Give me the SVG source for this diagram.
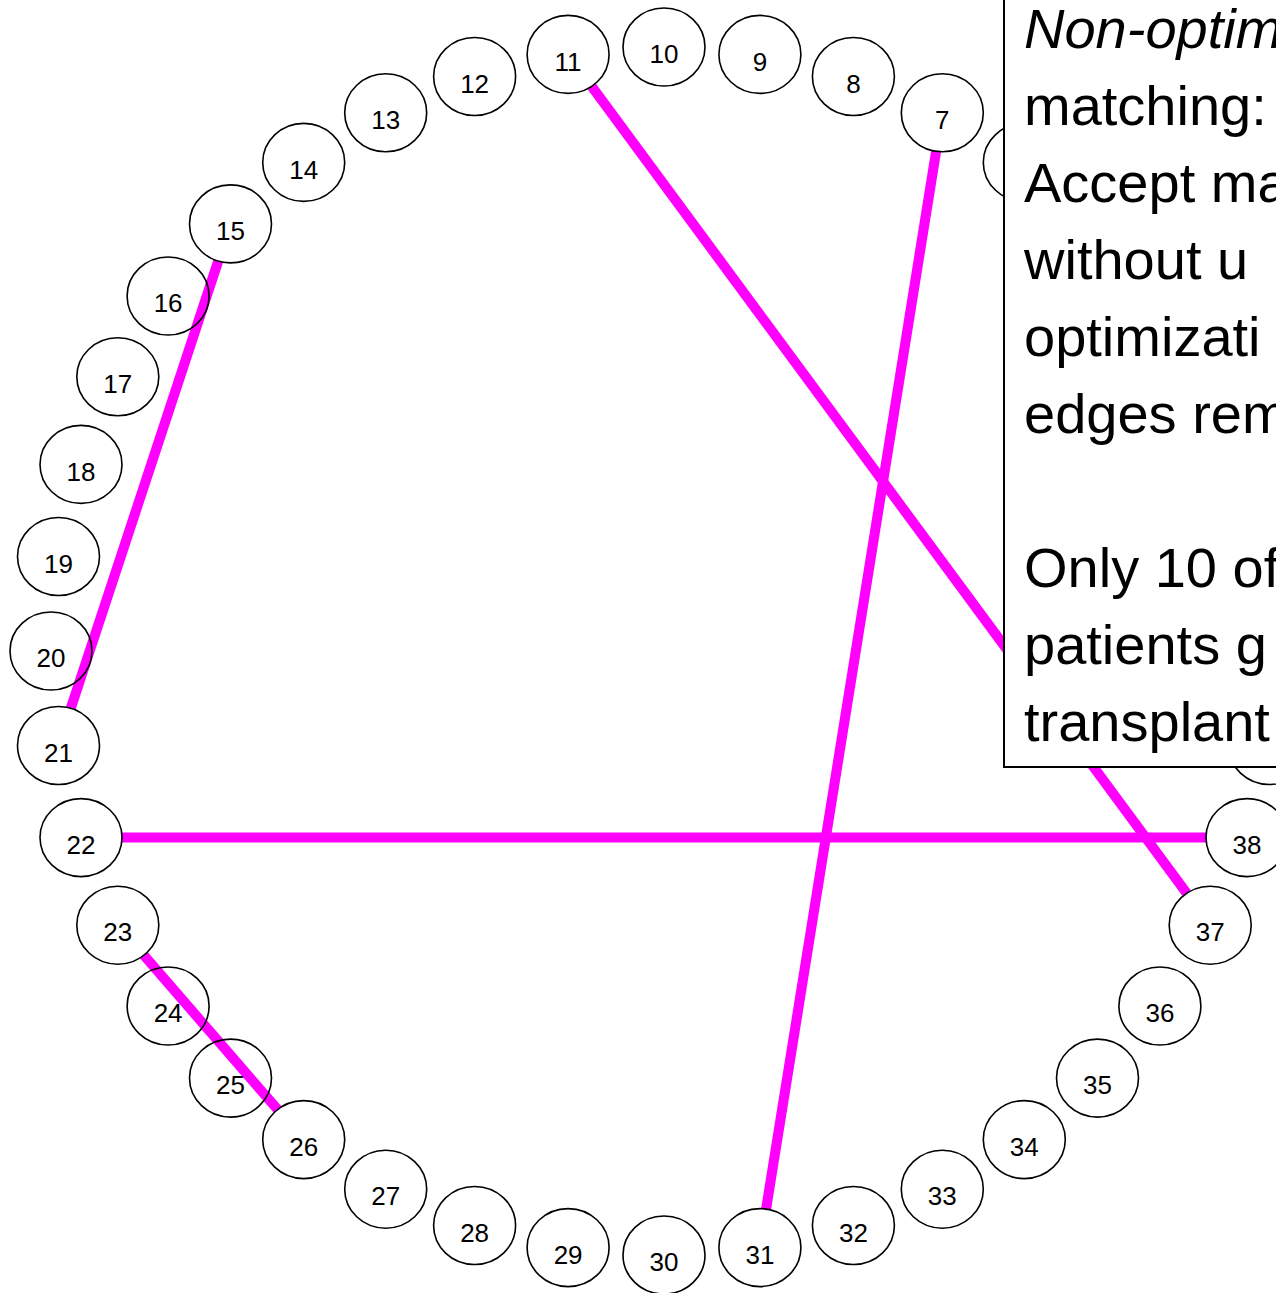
<svg xmlns="http://www.w3.org/2000/svg" width="1276" height="1293" viewBox="0 0 1276 1293">
  <style>
    .edge { stroke: #FF00FF; stroke-width: 10; fill: none; stroke-linecap: butt; }
    .node ellipse { fill: none; stroke: #000; stroke-width: 1.6; }
    .node text { font-family: "Liberation Sans", Arial, sans-serif; font-size: 26px; fill: #000; text-anchor: middle; }
    .note rect { fill: #fff; stroke: #000; stroke-width: 2; }
    .note text { font-family: "Liberation Sans", Arial, sans-serif; font-size: 56px; fill: #000; }
  </style>

  <rect x="0" y="0" width="1276" height="1293" fill="#fff"/>

  <!-- matched pairs -->
  <g id="connectors">
    <line class="edge" x1="591.6" y1="86.3" x2="1186.7" y2="893.3"/>
    <line class="edge" x1="936.1" y1="151.4" x2="766.1" y2="1209.0"/>
    <line class="edge" x1="218.2" y1="261.1" x2="70.8" y2="708.3"/>
    <line class="edge" x1="122" y1="837.6" x2="1206" y2="837.6"/>
    <line class="edge" x1="143.9" y1="955.3" x2="277.6" y2="1109.5"/>
  </g>

  <!-- patient nodes placed on a ring, 9 degrees apart -->
  <g id="n6" class="node"><ellipse cx="1024.3" cy="162.4" rx="41" ry="39"/></g>
  <g id="n7" class="node"><ellipse cx="942.3" cy="112.8" rx="41" ry="39"/><text x="942.3" y="129">7</text></g>
  <g id="n8" class="node"><ellipse cx="853.4" cy="76.5" rx="41" ry="39"/><text x="853.4" y="93">8</text></g>
  <g id="n9" class="node"><ellipse cx="759.9" cy="54.4" rx="41" ry="39"/><text x="759.9" y="71">9</text></g>
  <g id="n10" class="node"><ellipse cx="664" cy="47" rx="41" ry="39"/><text x="664" y="63">10</text></g>
  <g id="n11" class="node"><ellipse cx="568.1" cy="54.4" rx="41" ry="39"/><text x="568.1" y="71">11</text></g>
  <g id="n12" class="node"><ellipse cx="474.6" cy="76.5" rx="41" ry="39"/><text x="474.6" y="93">12</text></g>
  <g id="n13" class="node"><ellipse cx="385.7" cy="112.8" rx="41" ry="39"/><text x="385.7" y="129">13</text></g>
  <g id="n14" class="node"><ellipse cx="303.7" cy="162.4" rx="41" ry="39"/><text x="303.7" y="179">14</text></g>
  <g id="n15" class="node"><ellipse cx="230.5" cy="223.9" rx="41" ry="39"/><text x="230.5" y="240">15</text></g>
  <g id="n16" class="node"><ellipse cx="168.1" cy="296.0" rx="41" ry="39"/><text x="168.1" y="312">16</text></g>
  <g id="n17" class="node"><ellipse cx="117.8" cy="376.8" rx="41" ry="39"/><text x="117.8" y="393">17</text></g>
  <g id="n18" class="node"><ellipse cx="81.0" cy="464.4" rx="41" ry="39"/><text x="81.0" y="481">18</text></g>
  <g id="n19" class="node"><ellipse cx="58.5" cy="556.5" rx="41" ry="39"/><text x="58.5" y="573">19</text></g>
  <g id="n20" class="node"><ellipse cx="51" cy="651" rx="41" ry="39"/><text x="51" y="667">20</text></g>
  <g id="n21" class="node"><ellipse cx="58.5" cy="745.5" rx="41" ry="39"/><text x="58.5" y="762">21</text></g>
  <g id="n22" class="node"><ellipse cx="81.0" cy="837.6" rx="41" ry="39"/><text x="81.0" y="854">22</text></g>
  <g id="n23" class="node"><ellipse cx="117.8" cy="925.2" rx="41" ry="39"/><text x="117.8" y="941">23</text></g>
  <g id="n24" class="node"><ellipse cx="168.1" cy="1006.0" rx="41" ry="39"/><text x="168.1" y="1022">24</text></g>
  <g id="n25" class="node"><ellipse cx="230.5" cy="1078.1" rx="41" ry="39"/><text x="230.5" y="1094">25</text></g>
  <g id="n26" class="node"><ellipse cx="303.7" cy="1139.6" rx="41" ry="39"/><text x="303.7" y="1156">26</text></g>
  <g id="n27" class="node"><ellipse cx="385.7" cy="1189.2" rx="41" ry="39"/><text x="385.7" y="1205">27</text></g>
  <g id="n28" class="node"><ellipse cx="474.6" cy="1225.5" rx="41" ry="39"/><text x="474.6" y="1242">28</text></g>
  <g id="n29" class="node"><ellipse cx="568.1" cy="1247.6" rx="41" ry="39"/><text x="568.1" y="1264">29</text></g>
  <g id="n30" class="node"><ellipse cx="664" cy="1255" rx="41" ry="39"/><text x="664" y="1271">30</text></g>
  <g id="n31" class="node"><ellipse cx="759.9" cy="1247.6" rx="41" ry="39"/><text x="759.9" y="1264">31</text></g>
  <g id="n32" class="node"><ellipse cx="853.4" cy="1225.5" rx="41" ry="39"/><text x="853.4" y="1242">32</text></g>
  <g id="n33" class="node"><ellipse cx="942.3" cy="1189.2" rx="41" ry="39"/><text x="942.3" y="1205">33</text></g>
  <g id="n34" class="node"><ellipse cx="1024.3" cy="1139.6" rx="41" ry="39"/><text x="1024.3" y="1156">34</text></g>
  <g id="n35" class="node"><ellipse cx="1097.5" cy="1078.1" rx="41" ry="39"/><text x="1097.5" y="1094">35</text></g>
  <g id="n36" class="node"><ellipse cx="1159.9" cy="1006.0" rx="41" ry="39"/><text x="1159.9" y="1022">36</text></g>
  <g id="n37" class="node"><ellipse cx="1210.2" cy="925.2" rx="41" ry="39"/><text x="1210.2" y="941">37</text></g>
  <g id="n38" class="node"><ellipse cx="1247.0" cy="837.6" rx="41" ry="39"/><text x="1247.0" y="854">38</text></g>
  <g id="n39" class="node"><ellipse cx="1269.5" cy="745.5" rx="41" ry="39"/></g>

  <!-- explanatory note -->
  <g id="note" class="note">
    <rect x="1004" y="-10" width="290" height="777"/>
    <text x="1024" y="48" font-style="italic">Non-optim</text>
    <text x="1024" y="125">matching:</text>
    <text x="1024" y="202">Accept ma</text>
    <text x="1024" y="279">without u</text>
    <text x="1024" y="356">optimizati</text>
    <text x="1024" y="433">edges rem</text>
    <text x="1024" y="587">Only 10 of</text>
    <text x="1024" y="664">patients g</text>
    <text x="1024" y="741">transplant</text>
  </g>
</svg>
